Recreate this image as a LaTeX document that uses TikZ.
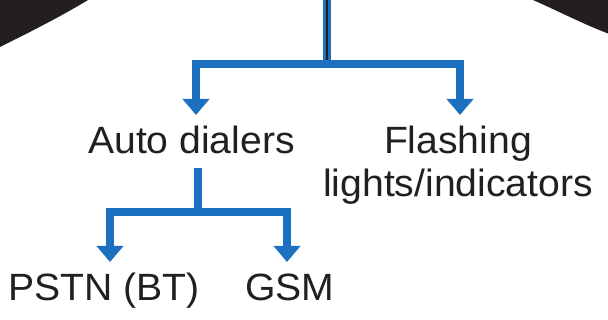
\documentclass[tikz,border=0pt]{standalone}
\usepackage{fontspec}
\setmainfont{Liberation Sans}
\newfontfamily\labfont[FakeStretch=1.03]{Liberation Sans}
\usetikzlibrary{arrows.meta}
\definecolor{linkblue}{RGB}{27,112,192}
\definecolor{inkblack}{RGB}{35,31,32}
\tikzset{
  bluelink/.style={draw=linkblue, line width=7.7pt, line join=miter,
    -{Triangle[width=26pt,length=16pt]}},
  bluestem/.style={draw=linkblue, line width=7.7pt},
  lbl/.style={anchor=base, inner sep=0pt, text=inkblack,
    font=\labfont\fontsize{38pt}{42.7pt}\selectfont, align=center}
}
\begin{document}
\begin{tikzpicture}[x=1pt,y=-1pt]
\useasboundingbox (0,0) rectangle (608,320);
% corner shapes
\fill[inkblack] (0,0) -- (88,0) .. controls (60,17) and (30,32) .. (0,47) -- cycle;
\fill[inkblack] (533,0) .. controls (558,11) and (583,24) .. (608,33.5) -- (608,0) -- cycle;
% labels
\node[lbl] (auto) at (191.5,153.3) {Auto dialers};
\node[lbl] (flash) at (458,196.7) {Flashing\\lights/indicators};
\node[lbl] (pstn) at (104,301) {PSTN (BT)};
\node[lbl] (gsm) at (290,301) {GSM};
% coordinates
\coordinate (top) at (327,0);
\coordinate (j1) at (327,64);
\coordinate (a1) at (196,115);
\coordinate (a2) at (460,115);
\coordinate (s2) at (198,168);
\coordinate (j2) at (198,212);
\coordinate (b1) at (110,262);
\coordinate (b2) at (287,262);
% upper connector
\draw[bluestem] (top) -- (j1);
\draw[inkblack, line width=2.5pt] (top) -- ([yshift=-4pt]j1);
\draw[bluelink] (j1) -| (a1);
\draw[bluelink] (j1) -| (a2);
% lower connector
\draw[bluestem] (s2) -- (j2);
\draw[bluelink] (j2) -| (b1);
\draw[bluelink] (j2) -| (b2);
\end{tikzpicture}
\end{document}
